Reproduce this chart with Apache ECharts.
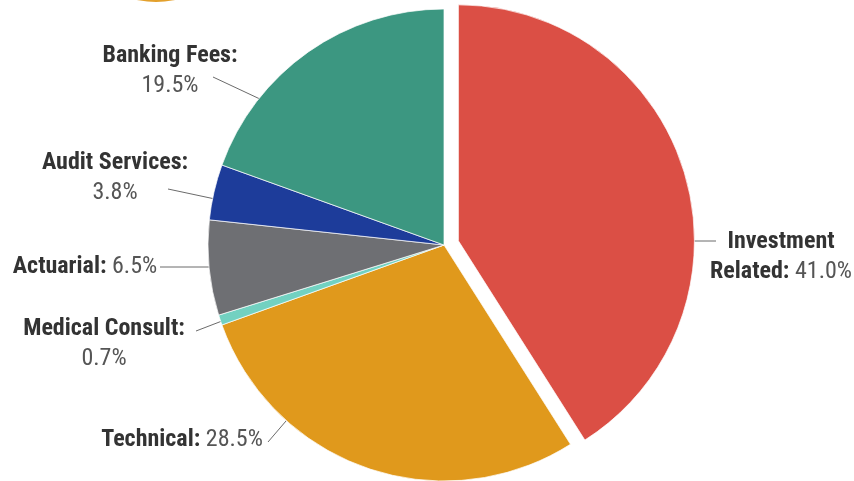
<!DOCTYPE html>
<html>
<head>
<meta charset="utf-8">
<script src="https://cdn.jsdelivr.net/npm/echarts@6/dist/echarts.min.js"></script>
<style>
html,body{margin:0;padding:0;background:#fff;}
#chart{width:854px;height:481px;}
</style>
</head>
<body>
<div id="chart"></div>
<script>
// Data
var categories = ['Investment Related', 'Technical', 'Medical Consult', 'Actuarial', 'Audit Services', 'Banking Fees'];
var values = [41.0, 28.5, 0.7, 6.5, 3.8, 19.5];
var colors = ['#DB4F45', '#E0991C', '#72D1C1', '#6E6F73', '#1D3C9A', '#3C9781'];
// label name parts (how the name text is broken) and whether the value sits on a new line
var labelNameLines = [['Investment', 'Related:'], ['Technical:'], ['Medical Consult:'], ['Actuarial:'], ['Audit Services:'], ['Banking Fees:']];
var valueOnNewLine = [false, false, true, false, true, true];
var explodedIndex = 0;

// Layout (label placements, not data)
var pieCenter = [444, 245];
var pieRadius = 236;
var explodeOffset = 15;
var labelCenters = [[781, 257], [182, 440], [104, 344], [85, 267], [115, 178], [170, 71]];
var labelLines = [
  [[684, 241], [716, 241]],
  [[292, 414], [268, 442]],
  [[222, 321], [196, 331]],
  [[216, 267], [160, 267]],
  [[215, 199], [168, 189]],
  [[277, 107], [213, 77]]
];

var FONT = "'Liberation Sans Narrow', 'Arial Narrow', 'Roboto Condensed', Roboto, sans-serif";
var chart = echarts.init(document.getElementById('chart'), null, {renderer: 'canvas'});

function fmt(i) {
  var v = '{v|' + values[i].toFixed(1) + '%}';
  var out = labelNameLines[i].map(function (l) { return '{n|' + l + '}'; });
  if (valueOnNewLine[i]) out.push(v);
  else out[out.length - 1] += '{v| }' + v;
  return out.join('\n');
}

// offset direction for the exploded slice (mid-angle of the slice, clockwise from 12 o'clock)
var total = values.reduce(function (a, b) { return a + b; }, 0);
var before = values.slice(0, explodedIndex).reduce(function (a, b) { return a + b; }, 0);
var midAngle = (before + values[explodedIndex] / 2) / total * 2 * Math.PI;
var explodedCenter = [pieCenter[0] + explodeOffset * Math.sin(midAngle), pieCenter[1] - explodeOffset * Math.cos(midAngle)];

function makeData(showExploded) {
  return categories.map(function (c, i) {
    var visible = (i === explodedIndex) === showExploded;
    return {
      name: c,
      value: values[i],
      itemStyle: visible ? {color: colors[i], borderColor: 'rgba(255,255,255,0.7)', borderWidth: 1}
                         : {color: 'rgba(0,0,0,0)', borderWidth: 0},
      label: {show: visible},
      labelLine: {show: visible}
    };
  });
}

function seriesBase(center, showExploded) {
  return {
    type: 'pie',
    center: center,
    radius: [0, pieRadius],
    startAngle: 90,
    clockwise: true,
    silent: true,
    data: makeData(showExploded),
    emphasis: {disabled: true},
    label: {
      position: 'outside',
      overflow: 'none',
      edgeDistance: 0,
      bleedMargin: 0,
      formatter: function (p) { return fmt(p.dataIndex); },
      fontFamily: FONT,
      rich: {
        n: {fontSize: 24, fontWeight: 'bold', color: '#333333', lineHeight: 30, fontFamily: FONT},
        v: {fontSize: 24, fontWeight: 'normal', color: '#555555', lineHeight: 30, fontFamily: FONT}
      }
    },
    labelLine: {lineStyle: {color: '#6b6b6b', width: 1}, length: 10, length2: 10},
    labelLayout: function (params) {
      var i = params.dataIndex;
      return {
        x: labelCenters[i][0],
        y: labelCenters[i][1],
        align: 'center',
        verticalAlign: 'middle',
        labelLinePoints: labelLines[i]
      };
    }
  };
}

chart.setOption({
  animation: false,
  backgroundColor: '#ffffff',
  graphic: [{
    type: 'circle',
    shape: {cx: 156, cy: -87, r: 89},
    style: {fill: '#E3A02C'}
  }],
  series: [
    seriesBase(pieCenter, false),
    seriesBase(explodedCenter, true)
  ]
});
</script>
</body>
</html>
